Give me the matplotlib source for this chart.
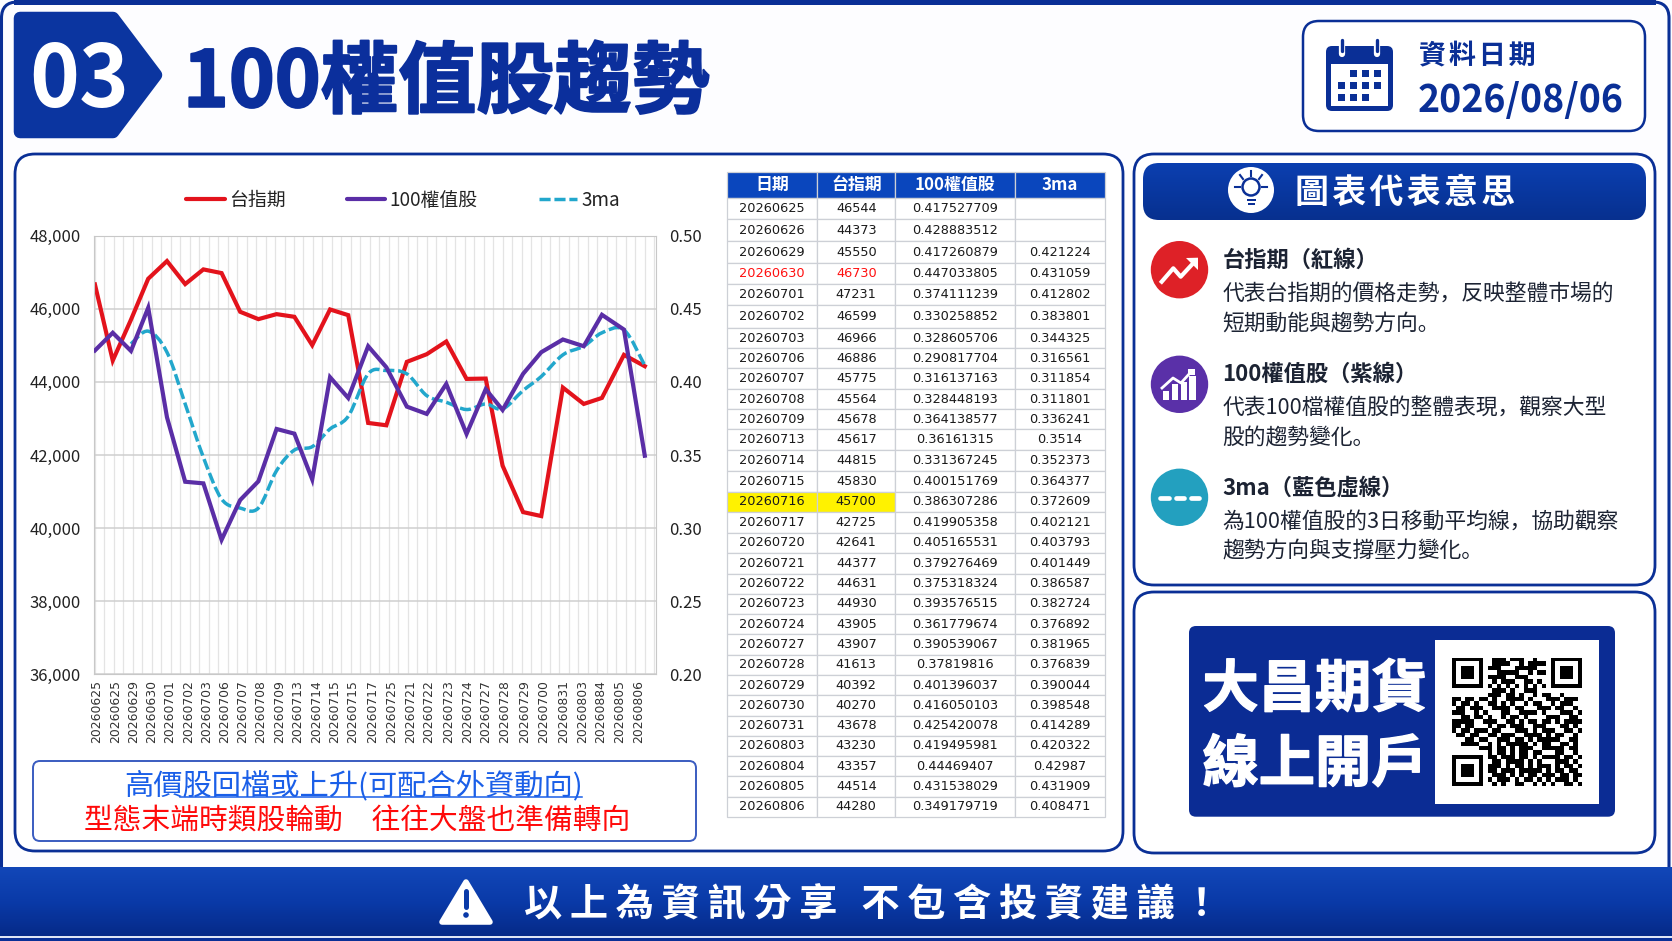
import numpy as np
import matplotlib
matplotlib.use("Agg")
import matplotlib.pyplot as plt
from matplotlib.colors import LinearSegmentedColormap
from matplotlib.lines import Line2D
from matplotlib.patches import Circle, FancyBboxPatch, PathPatch, Polygon, Rectangle
from matplotlib.path import Path
import matplotlib.patheffects as pe

W, H = 1672, 941
CJK = ["Noto Sans CJK TC", "DejaVu Sans"]
CJK_JP = ["Noto Sans CJK JP", "DejaVu Sans"]
plt.rcParams["font.family"] = CJK

NAVY = "#0a2f96"
RED = "#e3131c"
PURPLE = "#5a2ea6"
CYAN = "#22a7cc"

# x axis labels as printed under the chart
chart_labels = [
    "20260625", "20260625", "20260629", "20260630", "20260701", "20260702",
    "20260703", "20260706", "20260707", "20260708", "20260709", "20260713",
    "20260714", "20260715", "20260715", "20260717", "20260725", "20260721",
    "20260722", "20260723", "20260724", "20260727", "20260728", "20260729",
    "20260700", "20260831", "20260803", "20260884", "20260805", "20260806",
]
# the picture's categories are not evenly spaced, so these are read off too
label_pos = [
    0.11, 1.08, 2.03, 2.99, 3.95, 4.92, 5.88, 6.84, 7.80, 8.76,
    9.72, 10.68, 11.67, 12.62, 13.61, 14.64, 15.67, 16.65, 17.61, 18.64,
    19.67, 20.63, 21.61, 22.64, 23.67, 24.70, 25.73, 26.69, 27.67, 28.66,
]
point_pos = [
    0.00, 0.94, 1.90, 2.81, 3.80, 4.76, 5.72, 6.68, 7.66, 8.62,
    9.58, 10.52, 11.46, 12.40, 13.36, 14.41, 15.37, 16.45, 17.50, 18.53,
    19.60, 20.61, 21.50, 22.58, 23.54, 24.68, 25.78, 26.74, 27.90, 29.00,
]
tx_line = [
    46667, 44585, 45700, 46822, 47306, 46676, 47078, 46977, 45918, 45717,
    45854, 45781, 45005, 45982, 45826, 42877, 42813, 44548, 44758, 45105,
    44082, 44091, 41708, 40438, 40329, 43845, 43397, 43562, 44740, 44429,
]
top100_line = [
    0.4215, 0.4336, 0.4212, 0.4507, 0.3758, 0.3317, 0.3306, 0.2920, 0.3192, 0.3320,
    0.3678, 0.3646, 0.3333, 0.4032, 0.3890, 0.4244, 0.4100, 0.3831, 0.3781, 0.3986,
    0.3644, 0.3950, 0.3808, 0.4055, 0.4203, 0.4290, 0.4244, 0.4459, 0.4358, 0.3495,
]
ma_line = [
    0.4260, 0.4347, 0.4203, 0.3849, 0.3484, 0.3199, 0.3137, 0.3137, 0.3393, 0.3534,
    0.3557, 0.3678, 0.3765, 0.4055, 0.4078, 0.4055, 0.3906, 0.3861, 0.3811, 0.3849,
    0.3815, 0.3941, 0.4037, 0.4185, 0.4244, 0.4336, 0.4356, 0.4112,
]
ma_start = 2

# table columns
col_labels = ["日期", "台指期", "100權值股", "3ma"]
col_date = [
    "20260625", "20260626", "20260629", "20260630", "20260701", "20260702",
    "20260703", "20260706", "20260707", "20260708", "20260709", "20260713",
    "20260714", "20260715", "20260716", "20260717", "20260720", "20260721",
    "20260722", "20260723", "20260724", "20260727", "20260728", "20260729",
    "20260730", "20260731", "20260803", "20260804", "20260805", "20260806",
]
col_tx = [
    "46544", "44373", "45550", "46730", "47231", "46599", "46966", "46886",
    "45775", "45564", "45678", "45617", "44815", "45830", "45700", "42725",
    "42641", "44377", "44631", "44930", "43905", "43907", "41613", "40392",
    "40270", "43678", "43230", "43357", "44514", "44280",
]
col_top100 = [
    "0.417527709", "0.428883512", "0.417260879", "0.447033805", "0.374111239",
    "0.330258852", "0.328605706", "0.290817704", "0.316137163", "0.328448193",
    "0.364138577", "0.36161315", "0.331367245", "0.400151769", "0.386307286",
    "0.419905358", "0.405165531", "0.379276469", "0.375318324", "0.393576515",
    "0.361779674", "0.390539067", "0.37819816", "0.401396037", "0.416050103",
    "0.425420078", "0.419495981", "0.44469407", "0.431538029", "0.349179719",
]
col_ma = [
    "", "", "0.421224", "0.431059", "0.412802", "0.383801", "0.344325", "0.316561",
    "0.311854", "0.311801", "0.336241", "0.3514", "0.352373", "0.364377", "0.372609",
    "0.402121", "0.403793", "0.401449", "0.386587", "0.382724", "0.376892", "0.381965",
    "0.376839", "0.390044", "0.398548", "0.414289", "0.420322", "0.42987", "0.431909",
    "0.408471",
]
red_row = 3
yellow_row = 14

qr_rows = [
    "1111111" "001110111001000" "1111111",
    "1000001" "001111001011110" "1000001",
    "1011101" "011100011111000" "1011101",
    "1011101" "000111110010110" "1011101",
    "1011101" "011110011100000" "1011101",
    "1000001" "001011100110100" "1000001",
    "1111111" "010101010101010" "1111111",
    "0000000" "001110100111000" "0000000",
    "00000000111011010010110010000",
    "11011011010011110100011101110",
    "10110100110101001011001011100",
    "01101110011110110001110110010",
    "11100101000110011110100011101",
    "00110110100101101000011100110",
    "11111001110011010110110101111",
    "11011000101101110011100011010",
    "10110111011000111010111001101",
    "01101100110111001111010110010",
    "00011011001110110101111100110",
    "00111100101011111010110011010",
    "00000011101101011100111110110",
    "0000000" "010110101101100" "0110010",
    "1111111" "0110111011010111101101",
    "1000001" "0011011110101000111010",
    "1011101" "0111010110101110101101",
    "1011101" "0110111011111010110110",
    "1011101" "0011101010110111011011",
    "1000001" "0101110101101010111010",
    "1111111" "0010100110010101001101",
]


def px_axes(x0, y0, x1, y1, **kw):
    return fig.add_axes([x0 / W, 1 - y1 / H, (x1 - x0) / W, (y1 - y0) / H], **kw)


def rbox(x0, y0, x1, y1, r, fc="none", ec=NAVY, lw=1.5, zorder=2):
    p = FancyBboxPatch((x0 + r, y0 + r), x1 - x0 - 2 * r, y1 - y0 - 2 * r,
                       boxstyle=f"round,pad={r},rounding_size={r}",
                       fc=fc, ec=ec, lw=lw, zorder=zorder)
    canvas.add_patch(p)
    return p


def gradient(x0, y0, x1, y1, colors, clip=None, zorder=1):
    cmap = LinearSegmentedColormap.from_list("g", colors)
    im = canvas.imshow(np.linspace(0, 1, 200).reshape(-1, 1), cmap=cmap, aspect="auto",
                       extent=(x0, x1, y1, y0), zorder=zorder)
    if clip is not None:
        im.set_clip_path(clip)
    canvas.set_xlim(0, W)
    canvas.set_ylim(H, 0)
    return im


def spaced(s, sep="\u2009"):
    return sep.join(s)


def smooth_path(x, y):
    # Catmull-Rom through the points, like the smoothed line option in a spreadsheet chart
    pts = np.column_stack([x, y])
    verts = [pts[0]]
    codes = [Path.MOVETO]
    for i in range(len(pts) - 1):
        p0 = pts[max(i - 1, 0)]
        p1, p2 = pts[i], pts[i + 1]
        p3 = pts[min(i + 2, len(pts) - 1)]
        verts += [p1 + (p2 - p0) / 6, p2 - (p3 - p1) / 6, p2]
        codes += [Path.CURVE4] * 3
    return Path(verts, codes)


fig = plt.figure(figsize=(W / 100, H / 100), dpi=100, facecolor="#fdfdff")
canvas = px_axes(0, 0, W, H, zorder=0)
canvas.set_xlim(0, W)
canvas.set_ylim(H, 0)
canvas.axis("off")

# outer frame
rbox(1.5, 2, W - 3, 900, 16, ec=NAVY, lw=2.2)
canvas.add_patch(Rectangle((14, 0), W - 30, 5, fc=NAVY, ec="none", zorder=3))

# badge and title
canvas.add_patch(Polygon([(20, 18), (113, 18), (156, 75), (113, 132), (20, 132)], closed=True,
                         fc="#0b35a0", ec="#0b35a0", lw=9, joinstyle="round", zorder=3))
canvas.text(79, 82, "03", color="white", fontsize=61, weight="bold", ha="center", va="center", zorder=4)
canvas.text(183, 84, "100權值股趨勢", color="#0b2f9c", fontsize=56, weight="bold", ha="left", va="center",
            path_effects=[pe.withStroke(linewidth=1.5, foreground="#0b2f9c")], zorder=4)

# date box
rbox(1303, 21, 1645, 131, 16, fc="white", lw=1.8)
rbox(1326, 46, 1393, 111, 6, fc=NAVY, ec="none", lw=0, zorder=3)
canvas.add_patch(Rectangle((1331, 64), 57, 42, fc="white", ec="none", zorder=4))
for cx in (1342, 1377):
    canvas.add_line(Line2D([cx, cx], [41, 54], color="white", lw=4.5, solid_capstyle="round", zorder=4))
    canvas.add_line(Line2D([cx, cx], [40, 51], color=NAVY, lw=2.4, solid_capstyle="round", zorder=5))
cal_cells = [(1, 0), (2, 0), (3, 0), (0, 1), (1, 1), (2, 1), (3, 1), (0, 2), (1, 2), (2, 2)]
for c, r in cal_cells:
    canvas.add_patch(Rectangle((1337.5 + c * 12.2, 70 + r * 12), 7, 7, fc=NAVY, ec="none", zorder=5))
canvas.text(1419, 56, spaced("資料日期", "\u200a"), color=NAVY, fontsize=19.5, weight="bold", ha="left", va="center")
canvas.text(1418, 100, "2026/08/06", color=NAVY, fontsize=27, weight="bold", ha="left", va="center")

# panels
rbox(15, 154, 1123, 851, 20, fc="white", lw=2)
rbox(1134, 154, 1655, 585, 20, fc="white", lw=2)
rbox(1134, 592, 1655, 853, 20, fc="white", lw=2)

# chart
ax = px_axes(93.6, 235.7, 655.6, 674.3, zorder=2)
ax.set_xlim(-0.07, 29.57)
ax.set_ylim(36000, 48000)
ax.set_yticks(np.arange(36000, 48001, 2000))
ax.set_yticklabels([f"{v:,}" for v in range(36000, 48001, 2000)], fontsize=12, color="#222222")
ax.set_xticks(label_pos)
ax.set_xticklabels(chart_labels, rotation=90, fontsize=8.9, family="DejaVu Sans", color="#333333")
ax.set_xticks(np.arange(0, 30, 0.5), minor=True)
ax.tick_params(axis="x", which="both", length=0, pad=4)
ax.tick_params(axis="y", length=0, pad=9)
ax.grid(axis="y", color="#cfcfcf", lw=1.1)
ax.grid(axis="x", which="minor", color="#e4e4e4", lw=0.9)
ax.set_axisbelow(True)
for s in ax.spines.values():
    s.set_color("#c8c8c8")
ax.plot(point_pos, tx_line, color=RED, lw=3.0, solid_joinstyle="miter")

ax2 = ax.twinx()
ax2.set_ylim(0.20, 0.50)
ax2.set_yticks(np.arange(0.20, 0.501, 0.05))
ax2.set_yticklabels([f"{v:.2f}" for v in np.arange(0.20, 0.501, 0.05)], fontsize=12, color="#222222")
ax2.tick_params(axis="y", length=0, pad=10)
for s in ax2.spines.values():
    s.set_visible(False)
ax2.plot(point_pos, top100_line, color=PURPLE, lw=3.0, solid_joinstyle="miter")
ax2.add_patch(PathPatch(smooth_path(point_pos[ma_start:], ma_line), fill=False, ec=CYAN, lw=2.5,
                        linestyle=(0, (3.2, 1.1))))

handles = [
    Line2D([], [], color=RED, lw=3, solid_capstyle="round"),
    Line2D([], [], color=PURPLE, lw=3, solid_capstyle="round"),
    Line2D([], [], color=CYAN, lw=2.5, linestyle=(0, (3.2, 1.1))),
]
fig.legend(handles, ["台指期", "100權值股", "3ma"], ncol=3, frameon=False, fontsize=13.6,
           loc="center", bbox_to_anchor=(403 / W, 1 - 200.5 / H),
           handlelength=2.05, handletextpad=0.2, columnspacing=3.25, labelcolor="#222222")

# note box under the chart
rbox(33, 761, 696, 841, 7, fc="white", ec="#3a5cc0", lw=1.4)
canvas.text(353.5, 786, "高價股回檔或上升(可配合外資動向)", color="#1a5fe8", fontsize=21.1, ha="center", va="center", zorder=3)
canvas.add_line(Line2D([180.4, 581.6], [796.5, 796.5], color="#1a5fe8", lw=1.1, zorder=3))
canvas.text(357.5, 820.5, "型態末端時類股輪動\u3000往往大盤也準備轉向", color="#ff0a0a", fontsize=20.7, ha="center", va="center", zorder=3)

# table, rows as measured on the picture
row_edges = [
    172.3, 198.3, 219.3, 240.7, 263.3, 284.3, 305.0, 327.7, 348.3, 368.3, 389.0, 409.3,
    429.3, 450.0, 470.7, 491.7, 512.0, 532.7, 553.3, 573.7, 593.7, 614.0, 634.3, 654.7,
    675.0, 695.3, 715.7, 735.7, 756.0, 776.3, 796.7, 816.7,
]
tax = px_axes(727.3, 172.3, 1104.7, 816.7, zorder=2)
tax.axis("off")
cell_text = [list(r) for r in zip(col_date, col_tx, col_top100, col_ma)]
col_w = np.array([90.0, 78.0, 120.0, 89.4]) / 377.4
tbl = tax.table(cellText=cell_text, colLabels=col_labels, colWidths=list(col_w), loc="center", cellLoc="center")
tbl.auto_set_font_size(False)
tbl.set_fontsize(9.3)
row_h = np.diff(row_edges) / (row_edges[-1] - row_edges[0])
for (r, c), cell in tbl.get_celld().items():
    cell.set_edgecolor("#cdd0d6")
    cell.set_linewidth(0.9)
    cell.set_height(row_h[r])
    t = cell.get_text()
    if r == 0:
        cell.set_facecolor("#0a46bd")
        t.set_color("white")
        t.set_family(CJK)
        t.set_weight("bold")
        t.set_fontsize(12.2)
    else:
        t.set_family("DejaVu Sans")
        t.set_color("#1a1a1a")
        if r - 1 == red_row and c < 2:
            t.set_color("#ff1010")
        if r - 1 == yellow_row and c < 2:
            cell.set_facecolor("#fff200")

# right panel header
pill = rbox(1143, 163, 1646, 220, 16, fc="none", ec="none", lw=0, zorder=2)
gradient(1143, 163, 1646, 220, ["#0b3fb0", "#07308f"], clip=pill, zorder=2)
canvas.add_patch(Circle((1251, 190), 23, fc="white", ec="none", zorder=3))
canvas.add_patch(Circle((1251, 187), 8.5, fc="white", ec=NAVY, lw=1.8, zorder=4))
canvas.add_patch(Rectangle((1246.5, 199), 9, 2, fc=NAVY, ec="none", zorder=4))
canvas.add_patch(Rectangle((1247.5, 203), 7, 2, fc=NAVY, ec="none", zorder=4))
for dx0, dy0, dx1, dy1 in [(0, -19, 0, -14), (-11, -15, -8, -11), (11, -15, 8, -11), (-16, -3, -11, -3), (16, -3, 11, -3)]:
    canvas.add_line(Line2D([1251 + dx0, 1251 + dx1], [190 + dy0, 190 + dy1], color=NAVY, lw=1.5, zorder=4))
canvas.text(1295, 192.5, spaced("圖表代表意思", "\u200a"), color="white", fontsize=24.4, weight="bold", ha="left", va="center", zorder=3)

# icons
canvas.add_patch(Circle((1179.5, 269.7), 28.7, fc="#de2127", ec="none", zorder=3))
canvas.add_line(Line2D([1161.7, 1173.3, 1180.7, 1192], [281.7, 268.3, 276.7, 264.5], color="white", lw=3, zorder=4))
canvas.add_patch(Polygon([(1186, 258), (1198, 257.7), (1198, 270)], fc="white", ec="none", zorder=4))

canvas.add_patch(Circle((1179.5, 384.3), 28.7, fc="#5a30a8", ec="none", zorder=3))
for bx0, bx1, top in [(1162.5, 1169, 391), (1171.5, 1177.5, 384), (1180.5, 1186.5, 382), (1189, 1195.5, 376)]:
    canvas.add_patch(Rectangle((bx0, top), bx1 - bx0, 399.5 - top, fc="white", ec="none", zorder=4))
canvas.add_line(Line2D([1162, 1173, 1181, 1190], [388, 378, 383, 373], color="white", lw=2, zorder=4))
canvas.add_patch(Rectangle((1188, 368.5), 7, 6, fc="white", ec="none", zorder=4))

canvas.add_patch(Circle((1179.5, 497.3), 28.7, fc="#23a0bf", ec="none", zorder=3))
for dx0, dx1 in [(1160, 1168.5), (1175.5, 1183.5), (1191, 1199)]:
    canvas.add_line(Line2D([dx0, dx1], [498.3, 498.3], color="white", lw=3.4, solid_capstyle="round", zorder=4))

TEXT_COL = "#1c2333"
items = [
    (260.5, "台指期（紅線）", 295, "代表台指期的價格走勢，反映整體市場的", 323.7, "短期動能與趨勢方向。"),
    (374.5, "100權值股（紫線）", 409, "代表100檔權值股的整體表現，觀察大型", 438, "股的趨勢變化。"),
    (488.5, "3ma（藍色虛線）", 522, "為100權值股的3日移動平均線，協助觀察", 551, "趨勢方向與支撐壓力變化。"),
]
for y_h, head, y_1, line1, y_2, line2 in items:
    canvas.text(1222.5, y_h, head, color=TEXT_COL, fontsize=16, weight="bold", family=CJK_JP, ha="left", va="center", zorder=3)
    canvas.text(1222.5, y_1, line1, color=TEXT_COL, fontsize=15.7, family=CJK_JP, ha="left", va="center", zorder=3)
    canvas.text(1222.5, y_2, line2, color=TEXT_COL, fontsize=15.7, family=CJK_JP, ha="left", va="center", zorder=3)

# QR card
rbox(1189, 626, 1615, 816.7, 7, fc="#0b2c94", ec="none", lw=0, zorder=3)
canvas.add_patch(Rectangle((1435, 640), 164, 164, fc="white", ec="none", zorder=4))
canvas.text(1315, 690, "大昌期貨", color="white", fontsize=40.5, weight="bold", ha="center", va="center",
            path_effects=[pe.withStroke(linewidth=1, foreground="white")], zorder=4)
canvas.text(1315, 765, "線上開戶", color="white", fontsize=40.5, weight="bold", ha="center", va="center",
            path_effects=[pe.withStroke(linewidth=1, foreground="white")], zorder=4)
qr_ax = px_axes(1452, 657.7, 1582, 786, zorder=3)
qr_ax.imshow(np.array([[c == "1" for c in row] for row in qr_rows]), cmap="gray_r", interpolation="nearest", aspect="auto")
qr_ax.axis("off")

# footer
gradient(0, 867, W, 936, ["#1247b8", "#0a3aa8", "#062a88"], zorder=5)
canvas.add_patch(Rectangle((0, 936), W, 1.5, fc="#dfe6f5", ec="none", zorder=5))
canvas.add_patch(Rectangle((0, 937.5), W, 3.5, fc=NAVY, ec="none", zorder=5))
canvas.add_patch(Polygon([(466, 882), (490, 922), (442, 922)], fc="white", ec="white", lw=4, joinstyle="round", zorder=6))
canvas.add_line(Line2D([466, 466], [891, 907], color="#0a3aa8", lw=3.6, solid_capstyle="round", zorder=7))
canvas.add_patch(Circle((466, 915), 2.8, fc="#0a3aa8", ec="none", zorder=7))
canvas.text(524, 904, spaced("以上為資訊分享") + "\u2009 \u2009" + spaced("不包含投資建議！"), color="white", fontsize=27.5,
            weight="bold", ha="left", va="center", zorder=6)

fig.savefig("out.png", dpi=100, facecolor=fig.get_facecolor())
